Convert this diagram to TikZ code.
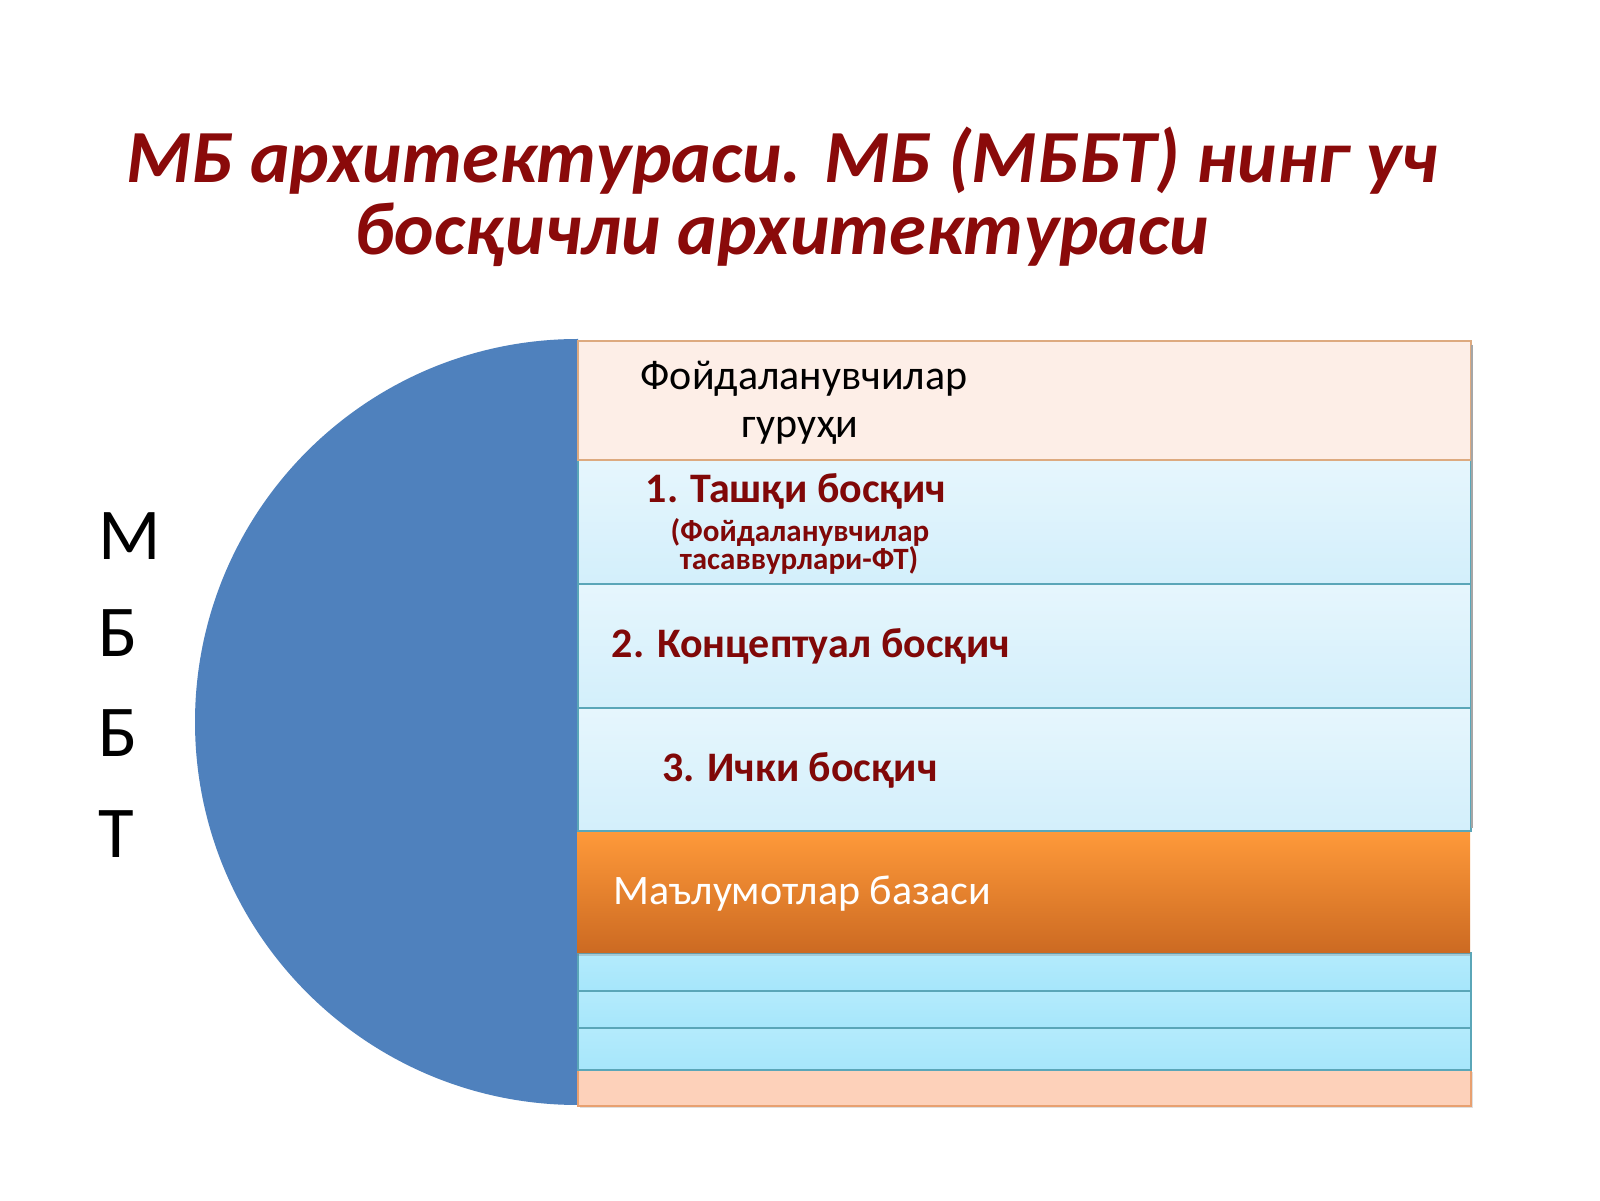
\documentclass[tikz,border=0pt]{standalone}
\usepackage{fontspec}
\setmainfont{Carlito}
\usetikzlibrary{shadows}
\definecolor{titlered}{HTML}{8A0A0A}
\definecolor{boxred}{HTML}{800808}
\definecolor{diskblue}{HTML}{4F81BD}
\definecolor{pinkfill}{HTML}{FDEEE7}
\definecolor{pinkline}{HTML}{DDAA80}
\definecolor{bluetop}{HTML}{E6F6FD}
\definecolor{bluebot}{HTML}{D3EFFB}
\definecolor{tealline}{HTML}{5AA6B8}
\definecolor{orangetop}{HTML}{FF9A3A}
\definecolor{orangebot}{HTML}{CC6A22}
\definecolor{barblue}{HTML}{A6E6FB}
\definecolor{bartop}{HTML}{B4EBFC}
\definecolor{peach}{HTML}{FDD1BA}
\definecolor{peachline}{HTML}{E8A070}
\tikzset{
  row/.style={rectangle, anchor=north west, inner sep=0pt, minimum width=893pt},
  bluerow/.style={row, draw=tealline, line width=1.6pt, top color=bluetop, bottom color=bluebot},
  barrow/.style={row, draw=tealline, line width=2pt, top color=bartop, bottom color=barblue},
  redtxt/.style={anchor=base, text=boxred, font=\bfseries\fontsize{42}{46}\selectfont, inner sep=0pt},
  redsmall/.style={anchor=base, text=boxred, font=\bfseries\fontsize{31}{34}\selectfont, inner sep=0pt},
  sidetxt/.style={anchor=base west, font=\fontsize{73}{80}\selectfont, inner sep=0pt},
  titletxt/.style={anchor=base, text=titlered, font=\bfseries\itshape\fontsize{75}{80}\selectfont, inner sep=0pt}
}
\begin{document}
\begin{tikzpicture}[x=1pt,y=1pt]
\useasboundingbox (0,0) rectangle (1600,1200);
\fill[white] (0,0) rectangle (1600,1200);
% title
\node[titletxt] (t1) at (782,1017) {МБ архитектураси. МБ (МББТ) нинг уч};
\node[titletxt] (t2) at (782,945) {босқичли архитектураси};
% half disk
\fill[diskblue] (578,861) arc[start angle=90, end angle=270, radius=383] -- cycle;
% rows (bottom first so upper rows overlap)
\node[row, draw=peachline, line width=1.6pt, fill=peach, minimum height=36pt, drop shadow={shadow xshift=2pt, shadow yshift=-2pt, opacity=0.25}] (r9) at (577,131) {};
\node[barrow, minimum height=42pt] (r8) at (577,173) {};
\node[barrow, minimum height=37pt] (r7) at (577,210) {};
\node[barrow, minimum height=38pt] (r6) at (577,248) {};
\node[row, minimum height=122pt, top color=orangetop, bottom color=orangebot, drop shadow={shadow xshift=0pt, shadow yshift=-4pt, opacity=0.3}] (r5) at (577,370) {};
\node[bluerow, minimum height=123pt] (r4) at (577,493) {};
\node[bluerow, minimum height=124pt] (r3) at (577,617) {};
\node[bluerow, minimum height=124pt] (r2) at (577,741) {};
\node[row, draw=pinkline, line width=1.6pt, fill=pinkfill, minimum height=119pt] (r1) at (577,860) {};
% right edge shadow
\draw[black!35, line width=2pt] (1471.5,855) -- (1471.5,372);
% texts
\node[anchor=base, font=\fontsize{42}{46}\selectfont, inner sep=0pt] (u1) at (804,810) {Фойдаланувчилар};
\node[anchor=base, font=\fontsize{42}{46}\selectfont, inner sep=0pt] (u2) at (800,762) {гуруҳи};
\node[redtxt] (s1) at (796,697) {1. Ташқи босқич};
\node[redsmall] (s1a) at (800,658) {(Фойдаланувчилар};
\node[redsmall] (s1b) at (799,630) {тасаввурлари-ФТ)};
\node[redtxt] (s2) at (811,542) {2. Концептуал босқич};
\node[redtxt] (s3) at (800,418) {3. Ички босқич};
\node[anchor=base west, text=white, font=\fontsize{42}{46}\selectfont, inner sep=0pt] (db) at (613,296) {Маълумотлар базаси};
% side letters
\node[sidetxt] (m1) at (98,640) {М};
\node[sidetxt] (m2) at (98,543) {Б};
\node[sidetxt] (m3) at (98,443) {Б};
\node[sidetxt] (m4) at (98,342) {Т};
\end{tikzpicture}
\end{document}
